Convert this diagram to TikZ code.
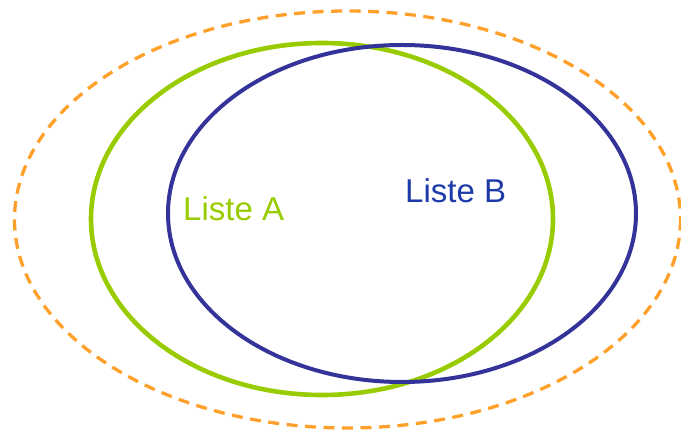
\documentclass[tikz,border=0pt]{standalone}
\usepackage{fontspec}
\setmainfont{Liberation Sans}
\definecolor{setorange}{HTML}{FFA02A}
\definecolor{setgreen}{HTML}{99CC00}
\definecolor{setblue}{HTML}{333399}
\definecolor{textblue}{HTML}{1C3AA9}
\tikzset{
  universe/.style={draw=setorange, line width=3.3pt, dash pattern=on 11pt off 7.5pt},
  setA/.style={draw=setgreen, line width=4.6pt},
  setB/.style={draw=setblue, line width=4pt},
  setlabel/.style={anchor=base west, inner sep=0pt, font=\fontsize{33}{36}\selectfont}
}
\begin{document}
\begin{tikzpicture}[x=1pt,y=-1pt]
\useasboundingbox (0,0) rectangle (681,430);
\draw[universe] (347.5,219.5) ellipse [x radius=333, y radius=208.5];
\draw[setA] (322,219) ellipse [x radius=231, y radius=176];
\draw[setB] (402,213.5) ellipse [x radius=234, y radius=168.5];
\node[setlabel, text=setgreen] (la) at (183,221) {Liste A};
\node[setlabel, text=textblue] (lb) at (405,203) {Liste B};
\end{tikzpicture}
\end{document}
